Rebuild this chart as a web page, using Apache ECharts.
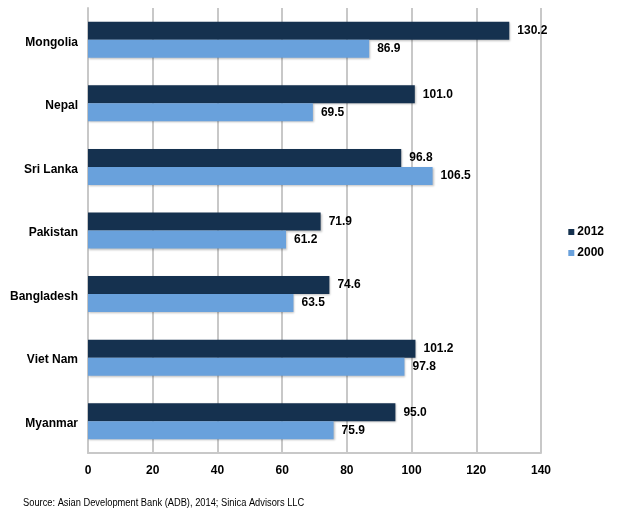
<!DOCTYPE html>
<html>
<head>
<meta charset="utf-8">
<script src="https://cdn.jsdelivr.net/npm/echarts@6/dist/echarts.min.js"></script>
<style>html,body{margin:0;padding:0;background:#fff}#c{width:619px;height:517px}</style>
</head>
<body>
<div id="c"></div>
<script>
const categories = ["Mongolia", "Nepal", "Sri Lanka", "Pakistan", "Bangladesh", "Viet Nam", "Myanmar"];
const values2012 = [130.2, 101.0, 96.8, 71.9, 74.6, 101.2, 95.0];
const values2000 = [86.9, 69.5, 106.5, 61.2, 63.5, 97.8, 75.9];
const xTicks = [0, 20, 40, 60, 80, 100, 120, 140];

const font = '"Liberation Sans", Arial, sans-serif';
const chart = echarts.init(document.getElementById('c'));
const lbl = {
  show: true, position: 'right', distance: 8,
  formatter: p => p.value.toFixed(1),
  color: '#000', fontWeight: 'bold', fontSize: 12, fontFamily: font
};
chart.setOption({
  animation: false,
  grid: { left: 88, right: 78, top: 8, bottom: 64 },
  legend: {
    orient: 'vertical', right: 10, top: 221,
    itemWidth: 6, itemHeight: 6, itemGap: 9, icon: 'rect',
    textStyle: { color: '#000', fontWeight: 'bold', fontSize: 12, fontFamily: font, padding: [0, 0, 0, -2] },
    data: ['2012', '2000']
  },
  xAxis: {
    type: 'value', min: 0, max: 140, interval: 20,
    axisLine: { show: true, lineStyle: { color: '#c8c8c8', width: 2 } },
    axisTick: { show: false },
    splitLine: { show: true, lineStyle: { color: '#c8c8c8', width: 2 } },
    axisLabel: { color: '#000', fontWeight: 'bold', fontSize: 12, fontFamily: font, margin: 12,
      formatter: v => xTicks.includes(v) ? String(v) : '' }
  },
  yAxis: {
    type: 'category', data: categories, inverse: true,
    axisLine: { show: true, lineStyle: { color: '#c8c8c8', width: 2 } },
    axisTick: { show: false },
    axisLabel: { margin: 10, formatter: v => '{a|' + v + '}',
      rich: { a: { color: '#000', fontWeight: 'bold', fontSize: 12, fontFamily: font, padding: [5, 0, 0, 0] } } }
  },
  series: [
    { name: '2012', type: 'bar', data: values2012, barWidth: 18, barGap: '0%',
      itemStyle: { color: '#15314f', shadowColor: 'rgba(0,0,0,0.25)', shadowBlur: 2, shadowOffsetX: 1, shadowOffsetY: 1 },
      label: lbl },
    { name: '2000', type: 'bar', data: values2000, barWidth: 18,
      itemStyle: { color: '#69a1dc', shadowColor: 'rgba(0,0,0,0.25)', shadowBlur: 2, shadowOffsetX: 1, shadowOffsetY: 1 },
      label: lbl }
  ],
  graphic: [{
    type: 'text', x: 23, y: 498, scaleX: 0.93,
    style: { text: 'Source: Asian Development Bank (ADB), 2014; Sinica Advisors LLC', fontSize: 10, fontFamily: font, fill: '#000' }
  }]
});
</script>
</body>
</html>
